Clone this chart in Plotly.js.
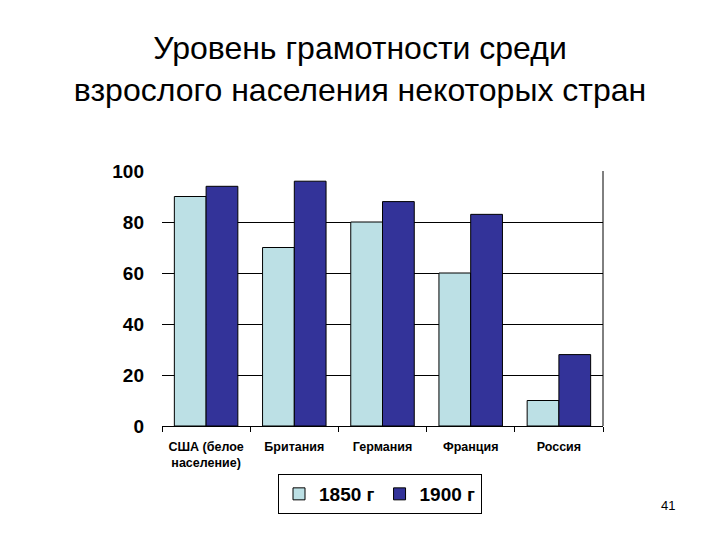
<!DOCTYPE html>
<html><head><meta charset="utf-8">
<script src="https://cdn.plot.ly/plotly-3.0.1.min.js"></script>
<style>body{margin:0;background:#fff}#c{width:720px;height:540px}</style>
</head><body><div id="c"></div>
<script>
const categories = ["США (белое<br>население)", "Британия", "Германия", "Франция", "Россия"];
const seriesNames = ["1850 г", "1900 г"];
const values1850 = [90, 70, 80, 60, 10];
const values1900 = [94, 96, 88, 83, 28];
const yTicks = [0, 20, 40, 60, 80, 100];

const F = "Arial, 'Liberation Sans', sans-serif";
const L = 162, R = 603, T = 171, B = 426;
const traces = [
  {type: "bar", name: seriesNames[0], x: categories, y: values1850,
   marker: {color: "#BCE0E5", line: {color: "#000", width: 1}}},
  {type: "bar", name: seriesNames[1], x: categories, y: values1900,
   marker: {color: "#333399", line: {color: "#000", width: 1}}}
];
const layout = {
  width: 720, height: 540,
  paper_bgcolor: "#fff", plot_bgcolor: "#fff",
  margin: {l: L, r: 720 - R, t: T, b: 540 - B},
  barmode: "group", bargap: 0.28, bargroupgap: 0,
  showlegend: true,
  title: {text: "Уровень грамотности среди<br>взрослого населения некоторых стран",
          font: {family: F, size: 32, color: "#000"},
          x: 0.5, xanchor: "center", y: 0.89, yanchor: "middle"},
  xaxis: {type: "category", showgrid: false, showline: true, linecolor: "#000", linewidth: 1,
          ticks: "outside", tickson: "boundaries", ticklen: 5, tickcolor: "#000",
          ticklabelstandoff: 9,
          tickfont: {family: F, size: 12.5, color: "#000", weight: "bold"}},
  yaxis: {range: [0, 100], tickvals: yTicks, showgrid: true, gridcolor: "#000", gridwidth: 1,
          showline: false, zeroline: false, ticks: "", ticklabelstandoff: 17,
          tickfont: {family: F, size: 19, color: "#000", weight: "bold"}},
  legend: {orientation: "h", x: (380 - L) / (R - L), xanchor: "center",
           y: (B - 494) / (B - T), yanchor: "middle",
           bordercolor: "#000", borderwidth: 1, bgcolor: "#fff",
           font: {family: F, size: 19, color: "#000", weight: "bold"}, traceorder: "normal",
           itemwidth: 30},
  shapes: [
    {type: "line", xref: "paper", yref: "paper", x0: 1, x1: 1, y0: 0, y1: 1,
     line: {color: "#000", width: 1}}
  ],
  annotations: [{text: "41", xref: "paper", yref: "paper", x: (668 - L) / (R - L), y: (B - 506) / (B - T),
                 xshift: 9, yshift: -9,
                 showarrow: false, font: {family: F, size: 13, color: "#000"}}]
};
Plotly.newPlot("c", traces, layout, {displayModeBar: false, staticPlot: true});
</script></body></html>
